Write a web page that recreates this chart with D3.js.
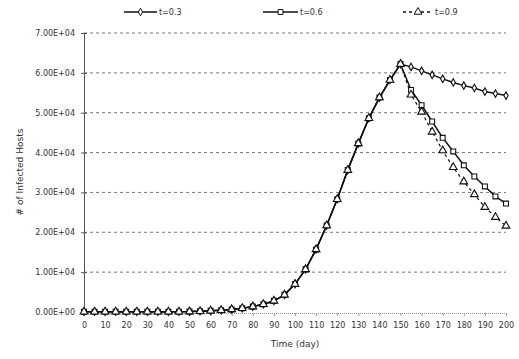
<!DOCTYPE html>
<html>
<head>
<meta charset="utf-8">
<script src="https://cdn.jsdelivr.net/npm/d3@7"></script>
<style>
  body { margin: 0; background: #fff; }
  text { font-family: "DejaVu Sans", sans-serif; fill: #333; }
</style>
</head>
<body>
<div id="chart"></div>
<script>
// days sampled every 5
const days = [0,5,10,15,20,25,30,35,40,45,50,55,60,65,70,75,80,85,90,95,100,
              105,110,115,120,125,130,135,140,145,150,155,160,165,170,175,180,185,190,195,200];
// shared rise up to day 150
const rise = [50,50,50,50,50,50,50,50,50,60,100,200,300,450,650,950,1350,1950,2800,4300,7000,
              10700,15700,21700,28300,35600,42300,48600,53800,58200,62200];
// after day 150, per threshold
const tail03 = [61500,60500,59500,58500,57600,56800,56200,55300,54800,54300];
const tail06 = [55700,51900,47800,43700,40300,36800,34000,31500,29000,27200];
const tail09 = [54500,50200,45200,40500,36300,32700,29500,26300,23800,21600];
const seriesNames = ["t=0.3", "t=0.6", "t=0.9"];
const yTicks = [0,10000,20000,30000,40000,50000,60000,70000];
const yTickLabels = ["0.00E+00","1.00E+04","2.00E+04","3.00E+04","4.00E+04","5.00E+04","6.00E+04","7.00E+04"];
const xTicks = [0,10,20,30,40,50,60,70,80,90,100,110,120,130,140,150,160,170,180,190,200];

const W = 519, H = 359;
const svg = d3.select("#chart").append("svg")
    .attr("width", W).attr("height", H);

const x = d3.scaleLinear().domain([0, 200]).range([84, 506]);
const y = d3.scaleLinear().domain([0, 70000]).range([312, 33]);

// gridlines
svg.append("g").selectAll("line")
  .data(yTicks.slice(1))
  .join("line")
    .attr("x1", 84).attr("x2", 506)
    .attr("y1", d => y(d)).attr("y2", d => y(d))
    .attr("stroke", "#777").attr("stroke-width", 1)
    .attr("stroke-dasharray", "3,3");

// y axis
const yAxis = svg.append("g").attr("transform", "translate(84,0)")
  .call(d3.axisLeft(y).tickValues(yTicks)
        .tickFormat((d, i) => yTickLabels[i]).tickSize(3).tickPadding(6));
yAxis.select(".domain").attr("stroke", "#555");
yAxis.selectAll(".tick line").attr("stroke", "#555").attr("x2", 3).attr("x1", -3);
yAxis.selectAll("text").attr("font-size", 8).attr("fill", "#333")
  .style("font-family", "DejaVu Sans, sans-serif");

// x axis
const xAxis = svg.append("g").attr("transform", "translate(0,313)")
  .call(d3.axisBottom(x).tickValues(xTicks).tickSize(3).tickPadding(6));
xAxis.select(".domain").attr("stroke", "#999").attr("stroke-dasharray", "1,1");
xAxis.selectAll(".tick line").attr("stroke", "#999");
xAxis.selectAll("text").attr("font-size", 8).attr("fill", "#333")
  .style("font-family", "DejaVu Sans, sans-serif");

// axis titles
svg.append("text")
  .attr("x", 295).attr("y", 347)
  .attr("text-anchor", "middle").attr("font-size", 9)
  .text("Time (day)");
svg.append("text")
  .attr("transform", "translate(23,172) rotate(-90)")
  .attr("text-anchor", "middle").attr("font-size", 9)
  .text("# of Infected Hosts");

// build series
const tails = [tail03, tail06, tail09];
const series = tails.map((t, k) => ({
  name: seriesNames[k],
  values: days.map((d, i) => ({ day: d, v: i < rise.length ? rise[i] : t[i - rise.length] }))
}));
const dashes = [null, null, "3,3"];
const symbols = [d3.symbolDiamond, d3.symbolSquare, d3.symbolTriangle];
const symSizes = [16, 24, 26];

const line = d3.line().x(d => x(d.day)).y(d => y(d.v));

series.forEach((s, k) => {
  svg.append("path")
    .datum(s.values)
    .attr("d", line)
    .attr("fill", "none")
    .attr("stroke", "#111")
    .attr("stroke-width", k === 2 ? 1.2 : 1.5)
    .attr("stroke-dasharray", dashes[k]);
});

series.forEach((s, k) => {
  svg.append("g").selectAll("path")
    .data(s.values)
    .join("path")
      .attr("transform", d => `translate(${x(d.day)},${y(d.v)})`)
      .attr("d", d3.symbol().type(symbols[k]).size(symSizes[k]))
      .attr("fill", "white")
      .attr("stroke", "#111")
      .attr("stroke-width", 1.1);
});

// legend
const legendX = [124, 263, 403];
const legendLen = [33, 35, 30];
const leg = svg.append("g");
seriesNames.forEach((name, k) => {
  const g = leg.append("g").attr("transform", `translate(${legendX[k]},12)`);
  g.append("line")
    .attr("x1", 0).attr("x2", legendLen[k]).attr("y1", 0).attr("y2", 0)
    .attr("stroke", "#111").attr("stroke-width", 1.5)
    .attr("stroke-dasharray", dashes[k]);
  g.append("path")
    .attr("transform", `translate(${legendLen[k] / 2},0)`)
    .attr("d", d3.symbol().type(symbols[k]).size(symSizes[k]))
    .attr("fill", "white").attr("stroke", "#111");
  g.append("text")
    .attr("x", legendLen[k] + 2).attr("y", 3)
    .attr("font-size", 8)
    .text(name);
});
</script>
</body>
</html>
